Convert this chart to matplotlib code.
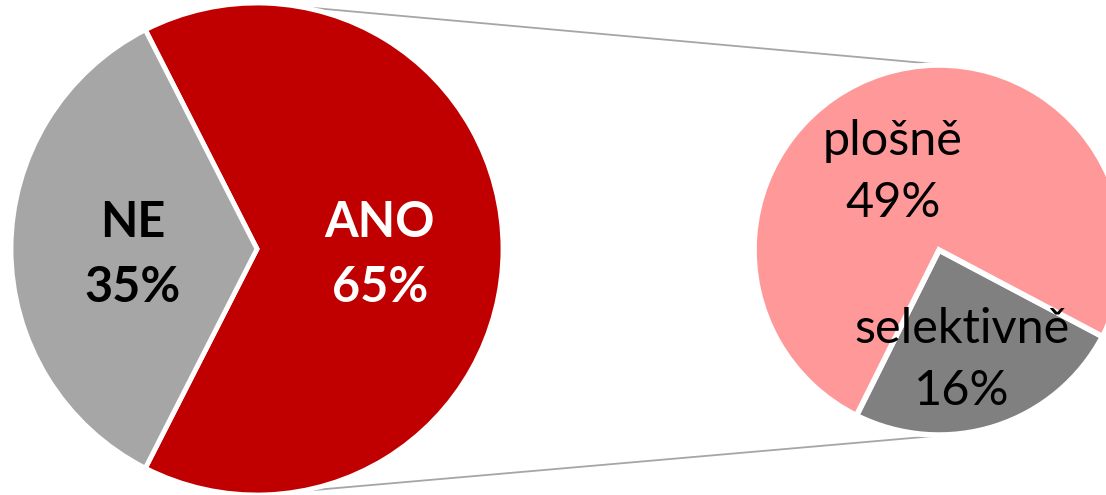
import numpy as np
import matplotlib.pyplot as plt

# hlavní koláč
main_labels = ["ANO", "NE"]
main_values = [65, 35]
main_colors = ["#C00000", "#A6A6A6"]
main_text_colors = ["white", "black"]

# rozpad ANO
sub_labels = ["selektivně", "plošně"]
sub_values = [16, 49]
sub_colors = ["#808080", "#FF9999"]

W, H = 1106, 495
fig = plt.figure(figsize=(W / 100, H / 100), dpi=100)
ax = fig.add_axes([0, 0, 1, 1])

c1, r1 = (257, 246), 246
c2, r2 = (939, 245), 185

font = "Lato"

ax.pie(main_values, colors=main_colors, startangle=-117, counterclock=True,
       center=c1, radius=r1,
       wedgeprops=dict(edgecolor="white", linewidth=3.5))
ax.pie(sub_values, colors=sub_colors, startangle=243.5, counterclock=True,
       center=c2, radius=r2, explode=[0.04, 0],
       wedgeprops=dict(edgecolor="white", linewidth=4))

# popisky
main_pos = [(380, 495 - 255), (133, 495 - 255)]
for lab, v, col, pos in zip(main_labels, main_values, main_text_colors, main_pos):
    ax.text(pos[0], pos[1], f"{lab}\n{v}%", ha="center", va="center",
            color=col, fontsize=35, fontweight="bold", family=font,
            linespacing=1.55)

sub_pos = [(962, 495 - 360), (893, 495 - 172)]
for lab, v, pos in zip(sub_labels, sub_values, sub_pos):
    ax.text(pos[0], pos[1], f"{lab}\n{v}%", ha="center", va="center",
            color="black", fontsize=35, family=font, linespacing=1.5)

# spojovací čáry
for a1, a2 in [(80, 86.5), (-80, -86.5)]:
    p1 = (c1[0] + r1 * np.cos(np.radians(a1)), c1[1] + r1 * np.sin(np.radians(a1)))
    p2 = (c2[0] + r2 * np.cos(np.radians(a2)), c2[1] + r2 * np.sin(np.radians(a2)))
    ax.plot([p1[0], p2[0]], [p1[1], p2[1]], color="#A6A6A6", lw=1.3, zorder=0)

ax.set_xlim(0, W)
ax.set_ylim(0, H)
ax.set_aspect("equal")
ax.axis("off")

fig.savefig("out.png", dpi=100)
